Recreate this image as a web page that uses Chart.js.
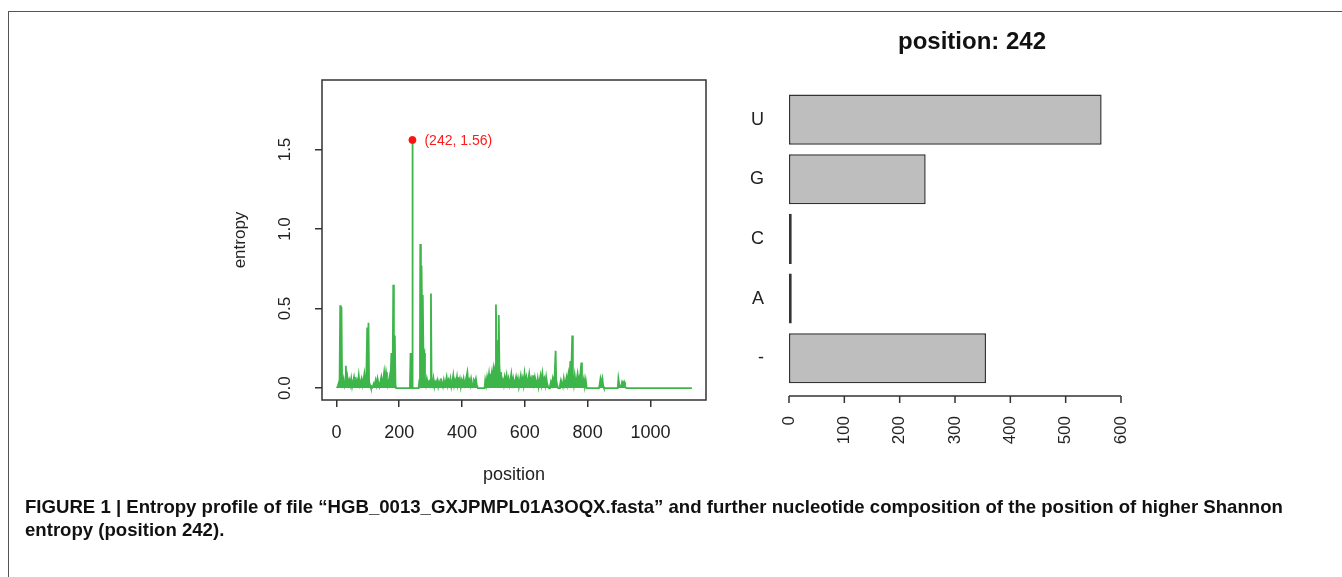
<!DOCTYPE html>
<html>
<head>
<meta charset="utf-8">
<script src="https://cdn.jsdelivr.net/npm/chart.js@4.4.1/dist/chart.umd.min.js"></script>
<style>
html,body{margin:0;padding:0;background:#fff;}
body{width:1342px;height:577px;position:relative;overflow:hidden;font-family:"Liberation Sans",Arial,sans-serif;}
#frame{position:absolute;left:8px;top:11px;width:1400px;height:700px;border-left:1.5px solid #555;border-top:1.5px solid #555;}
#entropyBox{position:absolute;left:200px;top:60px;width:530px;height:460px;}
#compBox{position:absolute;left:700px;top:10px;width:544px;height:470px;}
.cap{position:absolute;left:25px;font-family:"Liberation Sans Narrow","Liberation Sans",Arial,sans-serif;font-weight:bold;font-size:19px;line-height:22px;color:#111;white-space:nowrap;transform-origin:0 0;}
#cap1{top:496px;}
#cap2{top:519px;}
</style>
</head>
<body>
<div id="frame"></div>
<div id="entropyBox"><canvas id="entropyChart"></canvas></div>
<div id="compBox"><canvas id="compChart"></canvas></div>
<div class="cap" id="cap1">FIGURE 1 | Entropy profile of file “HGB_0013_GXJPMPL01A3OQX.fasta” and further nucleotide composition of the position of higher Shannon</div>
<div class="cap" id="cap2">entropy (position 242).</div>
<script>
// --- Data: entropy profile (position, entropy) ---
const positions = [
  1,4,7,10,12,14,16,18,
  20,23,26,28,30,32,35,38,41,44,47,50,53,56,59,62,65,68,71,74,77,80,83,86,89,92,95,
  98,100,102,104,107,110,113,116,119,122,125,128,131,134,137,140,143,146,149,152,155,158,161,164,167,170,172,175,177,179,181,183,186,188,190,
  234,236,237,241,242,243,262,
  264,266,267,269,271,273,275,277,280,282,285,288,291,294,297,299,301,303,306,309,312,315,
  318,321,324,327,330,333,336,339,342,345,348,351,354,357,360,363,366,369,372,375,378,381,384,387,390,393,396,399,402,405,
  408,411,414,417,420,423,426,429,432,435,438,441,444,447,450,
  472,474,477,480,483,486,489,492,495,498,501,504,507,508,510,512,514,516,517,519,521,524,527,
  530,533,536,539,542,545,548,551,554,557,
  560,563,566,569,572,575,578,581,584,587,
  590,593,596,599,602,605,608,611,614,617,
  620,623,626,629,632,635,638,641,644,647,
  650,653,656,659,662,665,668,671,674,677,
  680,683,686,689,692,695,698,700,703,706,
  709,712,715,718,721,724,727,730,733,736,
  739,742,745,748,751,753,756,759,762,765,
  768,771,774,777,780,782,785,788,791,794,
  797,
  836,838,841,844,847,850,852,
  896,898,901,904,907,910,913,916,919,923,1132
];
const entropy = [
  0,0.01,0.03,0.05,0.52,0.1,0.51,0.05,
  0.03,0.06,0.02,0.04,0.14,0.02,0.07,0.03,0.05,0.02,0.06,0.01,0.04,0.07,0.03,0.02,0.05,0.03,0.08,0.02,0.04,0.06,0.02,0.05,0.09,0.03,0.05,
  0.38,0.1,0.41,0.04,0.02,0,0,0.01,0.03,0.02,0.05,0.02,0.06,0.03,0.01,0.04,0.07,0.03,0.05,0.1,0.04,0.1,0.06,0.02,0.05,0.08,0.03,0.22,0.05,0.1,0.65,0.05,0.33,0.02,0,
  0,0.22,0,0,1.56,0,0,
  0.05,0.2,0.906,0.3,0.77,0.4,0.585,0.2,0.22,0.05,0.02,0.06,0.03,0.04,0.02,0.05,0.595,0.04,0.02,0.06,0.01,0.04,
  0.03,0.05,0.01,0.04,0.02,0.06,0.03,0.01,0.05,0.02,0.04,0.07,0.02,0.05,0.03,0.06,0.01,0.04,0.08,0.02,0.05,0.03,0.07,0.02,0.04,0.06,0.01,0.05,0.03,0.06,
  0.02,0.04,0.07,0.1,0.03,0.05,0.02,0.06,0.03,0.01,0.05,0.04,0.06,0.02,0,
  0,0.05,0.02,0.07,0.04,0.09,0.03,0.06,0.1,0.04,0.12,0.08,0.15,0.526,0.2,0.3,0.26,0.1,0.46,0.15,0.06,0.1,0.03,
  0.05,0.02,0.07,0.04,0.08,0.03,0.06,0.02,0.05,0.09,
  0.03,0.06,0.02,0.04,0.07,0.03,0.06,0.01,0.05,0.08,
  0.03,0.06,0.02,0.09,0.04,0.07,0.03,0.05,0.09,0.04,
  0.06,0.02,0.08,0.03,0.07,0.04,0.02,0.06,0.01,0.05,
  0.08,0.03,0.09,0.04,0.06,0.02,0.07,0.03,0.01,0,
  0.01,0.04,0.02,0.06,0.03,0.08,0.235,0.05,0.02,0,
  0,0.02,0.05,0.03,0.01,0.06,0.02,0.04,0.07,0.03,
  0.09,0.05,0.17,0.1,0.33,0.06,0.02,0.08,0.03,0.05,
  0.09,0.04,0.07,0.09,0.16,0.05,0.03,0.06,0.01,0.05,
  0,
  0,0.02,0.06,0.03,0.06,0.01,0,
  0,0.06,0.02,0.01,0.01,0.04,0.03,0.04,0.01,0,0
];
const peakPos = 242;
const peakEntropy = 1.56;
const positionTicks = [0, 200, 400, 600, 800, 1000];
const entropyTicks = [0, 0.5, 1.0, 1.5];

// --- Data: composition at position 242 ---
const bases = ['U', 'G', 'C', 'A', '-'];
const baseCounts = [565, 247, 5, 5, 356];
const countTicks = [0, 100, 200, 300, 400, 500, 600];

const FONT = '"Liberation Sans", Arial, sans-serif';
const GREEN = '#3db54a';
Chart.defaults.font.family = FONT;
Chart.defaults.color = '#222';

// box, rotated y labels and the peak label
const entropyDeco = {
  id: 'entropyDeco',
  afterDraw(chart){
    const {ctx, chartArea: a, scales: {x, y}} = chart;
    ctx.save();
    ctx.strokeStyle = '#333'; ctx.lineWidth = 1.5;
    ctx.strokeRect(a.left, a.top, a.right - a.left, a.bottom - a.top);
    ctx.fillStyle = '#222'; ctx.font = '17px ' + FONT;
    ctx.textAlign = 'center'; ctx.textBaseline = 'middle';
    entropyTicks.forEach(v => {
      ctx.save();
      ctx.translate(a.left - 37, y.getPixelForValue(v));
      ctx.rotate(-Math.PI / 2);
      ctx.fillText(v.toFixed(1), 0, 0);
      ctx.restore();
    });
    ctx.fillStyle = '#ff1a1a'; ctx.font = '14px ' + FONT; ctx.textAlign = 'left';
    ctx.fillText(`(${peakPos}, ${peakEntropy})`, x.getPixelForValue(peakPos) + 12, y.getPixelForValue(peakEntropy) + 1);
    ctx.restore();
  }
};

new Chart(document.getElementById('entropyChart'), {
  type: 'line',
  data: {
    datasets: [
      {
        data: positions.map((p, i) => ({x: p, y: entropy[i]})),
        borderColor: GREEN, backgroundColor: GREEN, fill: 'origin',
        borderWidth: 1.8, pointRadius: 0, tension: 0, order: 2
      },
      {
        type: 'scatter',
        data: [{x: peakPos, y: peakEntropy}],
        pointRadius: 3.5, backgroundColor: '#ff1010', borderColor: '#ff1010', order: 1
      }
    ]
  },
  options: {
    responsive: true, maintainAspectRatio: false, animation: false,
    layout: {padding: {top: 20, right: 24, left: 0, bottom: 0}},
    plugins: {legend: {display: false}, tooltip: {enabled: false}},
    scales: {
      x: {
        type: 'linear', min: -46, max: 1177,
        afterBuildTicks: s => { s.ticks = positionTicks.map(v => ({value: v})); },
        afterFit: s => { s.height = 120; },
        grid: {drawOnChartArea: false, tickLength: 7, color: '#333', lineWidth: 1.5},
        border: {display: false},
        ticks: {color: '#222', font: {size: 18}, padding: 15, maxRotation: 0, callback: v => String(v)},
        title: {display: true, text: 'position', color: '#222', font: {size: 18}, padding: {bottom: 34}}
      },
      y: {
        min: -0.075, max: 1.937,
        afterBuildTicks: s => { s.ticks = entropyTicks.map(v => ({value: v})); },
        afterFit: s => { s.width = 122; },
        grid: {drawOnChartArea: false, tickLength: 7, color: '#333', lineWidth: 1.5},
        border: {display: false},
        ticks: {display: false},
        title: {display: true, text: 'entropy', color: '#222', font: {size: 17}, padding: {top: 30}}
      }
    }
  },
  plugins: [entropyDeco]
});

// axis line of the bar chart, drawn a little below the bars like R does
const countAxis = {
  id: 'countAxis',
  afterDraw(chart){
    const {ctx, chartArea: a, scales: {x}} = chart;
    const y0 = a.bottom + 8;
    ctx.save();
    ctx.strokeStyle = '#333'; ctx.lineWidth = 1.5;
    ctx.beginPath();
    ctx.moveTo(x.getPixelForValue(countTicks[0]), y0);
    ctx.lineTo(x.getPixelForValue(countTicks[countTicks.length - 1]), y0);
    countTicks.forEach(v => {
      const px = x.getPixelForValue(v);
      ctx.moveTo(px, y0); ctx.lineTo(px, y0 + 7);
    });
    ctx.stroke();
    ctx.restore();
  }
};

new Chart(document.getElementById('compChart'), {
  type: 'bar',
  data: {
    labels: bases,
    datasets: [{
      data: baseCounts, backgroundColor: '#bebebe', borderColor: '#333', borderWidth: 1.5,
      borderSkipped: false, categoryPercentage: 1, barPercentage: 0.84
    }]
  },
  options: {
    indexAxis: 'y', responsive: true, maintainAspectRatio: false, animation: false,
    layout: {padding: 0},
    plugins: {
      legend: {display: false}, tooltip: {enabled: false},
      title: {display: true, text: 'position: 242', color: '#111', font: {size: 24, weight: 'bold'}, padding: {top: 18, bottom: 33}}
    },
    scales: {
      x: {
        min: 0, max: 600,
        afterBuildTicks: s => { s.ticks = countTicks.map(v => ({value: v})); },
        afterFit: s => { s.height = 92; },
        grid: {display: false, drawTicks: false},
        border: {display: false},
        ticks: {autoSkip: false, minRotation: 90, maxRotation: 90, padding: 28, color: '#222', font: {size: 17}}
      },
      y: {
        afterFit: s => { s.width = 89; },
        grid: {display: false, drawTicks: false},
        border: {display: false},
        ticks: {padding: 25, color: '#222', font: {size: 18}}
      },
      // empty right margin so the title stays centred on the whole panel
      side: {
        type: 'linear', position: 'right', display: true,
        afterFit: s => { s.width = 123; },
        grid: {display: false, drawTicks: false},
        border: {display: false},
        ticks: {display: false}
      }
    }
  },
  plugins: [countAxis]
});

// caption: stretch to the measured width of the original line
document.fonts.ready.then(() => {
  const c1 = document.getElementById('cap1');
  const c2 = document.getElementById('cap2');
  const k = 1258 / c1.scrollWidth;
  c1.style.transform = `scaleX(${k})`;
  c2.style.transform = `scaleX(${k})`;
});
</script>
</body>
</html>
